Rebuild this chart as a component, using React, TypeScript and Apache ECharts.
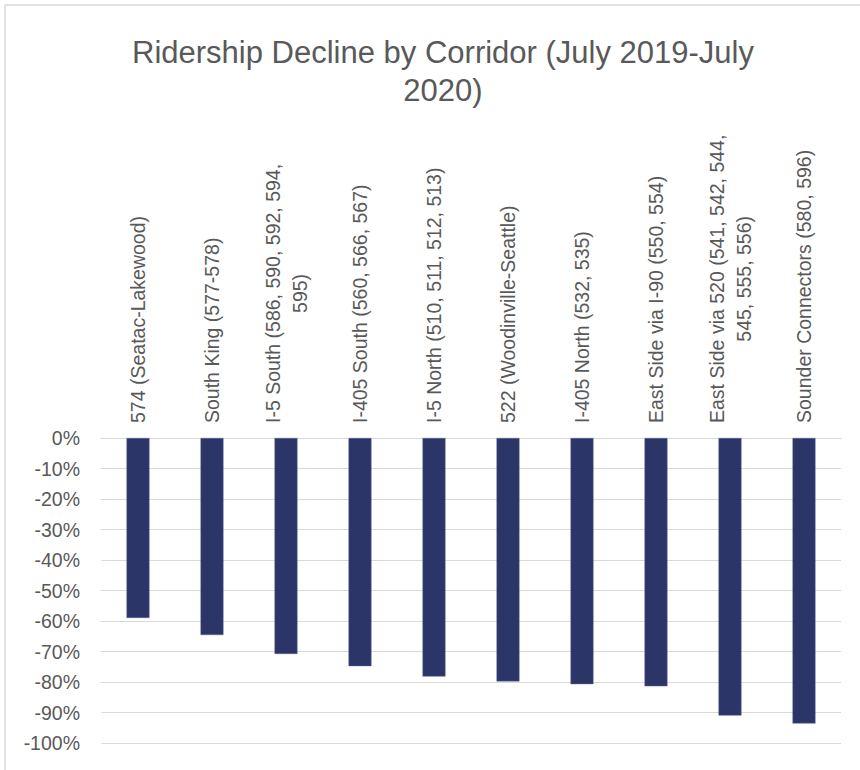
import React, { useEffect, useRef } from "react";
import * as echarts from "echarts";

const categories: string[] = [
  "574 (Seatac-Lakewood)",
  "South King (577-578)",
  "I-5 South (586, 590, 592, 594,\n595)",
  "I-405 South (560, 566, 567)",
  "I-5 North (510, 511, 512, 513)",
  "522 (Woodinville-Seattle)",
  "I-405 North (532, 535)",
  "East Side via I-90 (550, 554)",
  "East Side via 520 (541, 542, 544,\n545, 555, 556)",
  "Sounder Connectors (580, 596)",
];

const declines: number[] = [
  -0.590, -0.646, -0.708, -0.748, -0.782, -0.798, -0.807, -0.814, -0.910, -0.936,
];

const yTicks = { min: -1, max: 0, interval: 0.1 };

const titleText = "Ridership Decline by Corridor (July 2019-July\n2020)";

const FONT = '"Liberation Sans", Arial, sans-serif';
const TEXT = "#595959";
const GRID = "#D9D9D9";
const BAR = "#2C3568";

export default function App() {
  const ref = useRef<HTMLDivElement>(null);
  useEffect(() => {
    if (!ref.current) return;
    const chart = echarts.init(ref.current, null, { renderer: "svg" });
    chart.setOption({
      animation: false,
      backgroundColor: "#ffffff",
      graphic: [
        {
          type: "rect",
          shape: { x: 5, y: 5, width: 1000, height: 1000 },
          style: { fill: "none", stroke: GRID, lineWidth: 1.5 },
          silent: true,
        },
      ],
      title: {
        text: titleText,
        left: 438,
        top: 28,
        textAlign: "center",
        textStyle: {
          fontFamily: FONT,
          fontSize: 31,
          fontWeight: "normal",
          color: TEXT,
          lineHeight: 38,
        },
      },
      grid: { left: 101, right: 19, top: 438, bottom: 27, containLabel: false },
      xAxis: {
        type: "category",
        position: "top",
        data: categories,
        axisLine: { show: true, lineStyle: { color: GRID, width: 1 } },
        axisTick: { show: false },
        axisLabel: {
          interval: 0,
          rotate: 90,
          margin: 15,
          fontFamily: FONT,
          fontSize: 19.5,
          color: TEXT,
          lineHeight: 27,
          formatter: (v: string) =>
            v
              .split("\n")
              .map((s) => "{c|" + s + "}")
              .join("\n"),
          rich: {
            c: {
              align: "center",
              fontFamily: FONT,
              fontSize: 19.5,
              color: TEXT,
              lineHeight: 27,
            },
          },
        },
      },
      yAxis: {
        type: "value",
        min: yTicks.min,
        max: yTicks.max,
        interval: yTicks.interval,
        axisLine: { show: false },
        axisTick: { show: false },
        splitLine: { show: true, lineStyle: { color: GRID, width: 1 } },
        axisLabel: {
          margin: 21,
          fontFamily: FONT,
          fontSize: 19.5,
          color: TEXT,
          formatter: (v: number) => Math.round(v * 100) + "%",
        },
      },
      series: [
        {
          type: "bar",
          data: declines,
          barWidth: "31%",
          itemStyle: { color: BAR, borderColor: "#5A6290", borderWidth: 0.5 },
        },
      ],
    });
    return () => chart.dispose();
  }, []);
  return (
    <div
      ref={ref}
      style={{ position: "absolute", left: 0, top: 0, width: 860, height: 770 }}
    />
  );
}
